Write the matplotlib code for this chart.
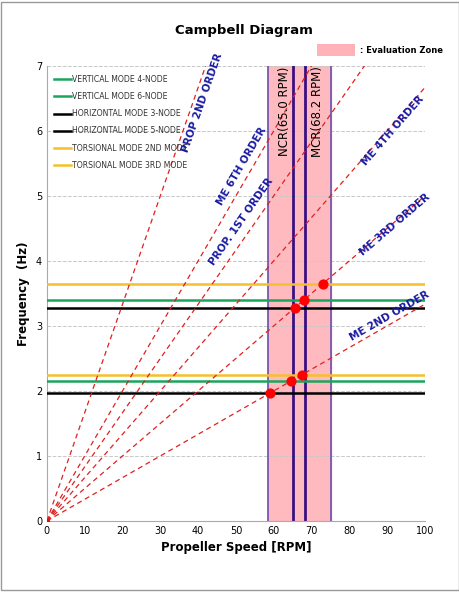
import matplotlib
matplotlib.use("Agg")
import matplotlib.pyplot as plt
import numpy as np
from matplotlib.patches import Rectangle

mode_names = ["VERTICAL MODE 4-NODE", "VERTICAL MODE 6-NODE", "HORIZONTAL MODE 3-NODE",
              "HORIZONTAL MODE 5-NODE", "TORSIONAL MODE 2ND MODE", "TORSIONAL MODE 3RD MODE"]
mode_freqs = [2.15, 3.40, 1.97, 3.28, 2.25, 3.65]
mode_colors = ["#1aa55a", "#1aa55a", "#000000", "#000000", "#f5c02a", "#f5c02a"]
orders = [2, 3, 4, 6, 5, 10]  # cycles per rev
order_labels = ["ME 2ND ORDER", "ME 3RD ORDER", "ME 4TH ORDER", "ME 6TH ORDER", "PROP. 1ST ORDER", "PROP 2ND ORDER"]
label_pos = [(90.5, 3.15), (92, 4.55), (91.5, 6.0), (51.5, 5.45), (51.5, 4.6), (41, 6.43)]
zone = (58.5, 75.0)
ncr, mcr = 65.0, 68.2
pts_x = [59.1, 64.5, 67.5, 65.6, 68.0, 73.0]
pts_y = [1.97, 2.15, 2.25, 3.28, 3.40, 3.65]

fig = plt.figure(figsize=(4.6, 5.92), dpi=100)
ax = fig.add_axes([0.102, 0.120, 0.822, 0.769])
ax.set_xlim(0, 100); ax.set_ylim(0, 7)
ax.set_xticks(range(0, 101, 10)); ax.set_yticks(range(0, 8))
ax.tick_params(labelsize=7, length=0)
ax.grid(axis='y', color='#c8c8c8', ls='--', lw=0.7)
for s in ['top', 'right']:
    ax.spines[s].set_visible(False)
for s in ['left', 'bottom']:
    ax.spines[s].set_color('#aaaaaa')

ax.axvspan(*zone, color='#ffb3b8', alpha=0.9, zorder=1)
for xv in zone:
    ax.axvline(xv, color='#6a4fb0', lw=1.2, zorder=2)
for xv in (ncr, mcr):
    ax.axvline(xv, color='#3b0f80', lw=2, zorder=2)

for i, nm in enumerate(mode_names):
    ax.plot([0, 100], [mode_freqs[i]] * 2, color=mode_colors[i], lw=1.8, label=nm, zorder=3)

xs = np.array([0, 100])
for o in orders:
    ax.plot(xs, xs * o / 60, color='#e02020', ls=(0, (4, 3)), lw=0.9, zorder=4)

fig.canvas.draw()
for o, lab, (lx, ly) in zip(orders, order_labels, label_pos):
    p1 = ax.transData.transform((0, 0)); p2 = ax.transData.transform((10, 10 * o / 60))
    ang = np.degrees(np.arctan2(p2[1] - p1[1], p2[0] - p1[0]))
    ax.text(lx, ly, lab, rotation=ang, color='#1a1aa0', fontsize=7.5, fontweight='bold',
            ha='center', va='center', rotation_mode='anchor', zorder=6)

ax.text(62.7, 6.3, "NCR(65.0 RPM)", rotation=90, fontsize=8.5, ha='center', va='center', zorder=6)
ax.text(71.5, 6.3, "MCR(68.2 RPM)", rotation=90, fontsize=8.5, ha='center', va='center', zorder=6)

ax.scatter(pts_x, pts_y, s=40, color='#ff0000', zorder=7)
ax.scatter([0], [0], s=8, color='#ff0000', zorder=7)

leg = ax.legend(loc='upper left', bbox_to_anchor=(0.0, 0.995), frameon=False, fontsize=5.6,
                handlelength=2.2, handletextpad=0.1, labelspacing=1.05, labelcolor='#333333')

ax.set_xlabel("Propeller Speed [RPM]", fontsize=8.5, fontweight='bold')
ax.set_ylabel("Frequency  (Hz)", fontsize=8.5, fontweight='bold')
fig.text(0.53, 0.949, "Campbell Diagram", ha='center', va='center', fontsize=9.5, fontweight='bold')
fig.patches.append(Rectangle((0.69, 0.905), 0.082, 0.021, transform=fig.transFigure,
                             facecolor='#ffb3b8', edgecolor='none'))
fig.text(0.782, 0.915, ": Evaluation Zone", fontsize=6, fontweight='bold', va='center')
fig.patches.append(Rectangle((0.003, 0.003), 0.994, 0.994, transform=fig.transFigure,
                             facecolor='none', edgecolor='#999999', lw=1))
fig.savefig("out.png", dpi=100)
